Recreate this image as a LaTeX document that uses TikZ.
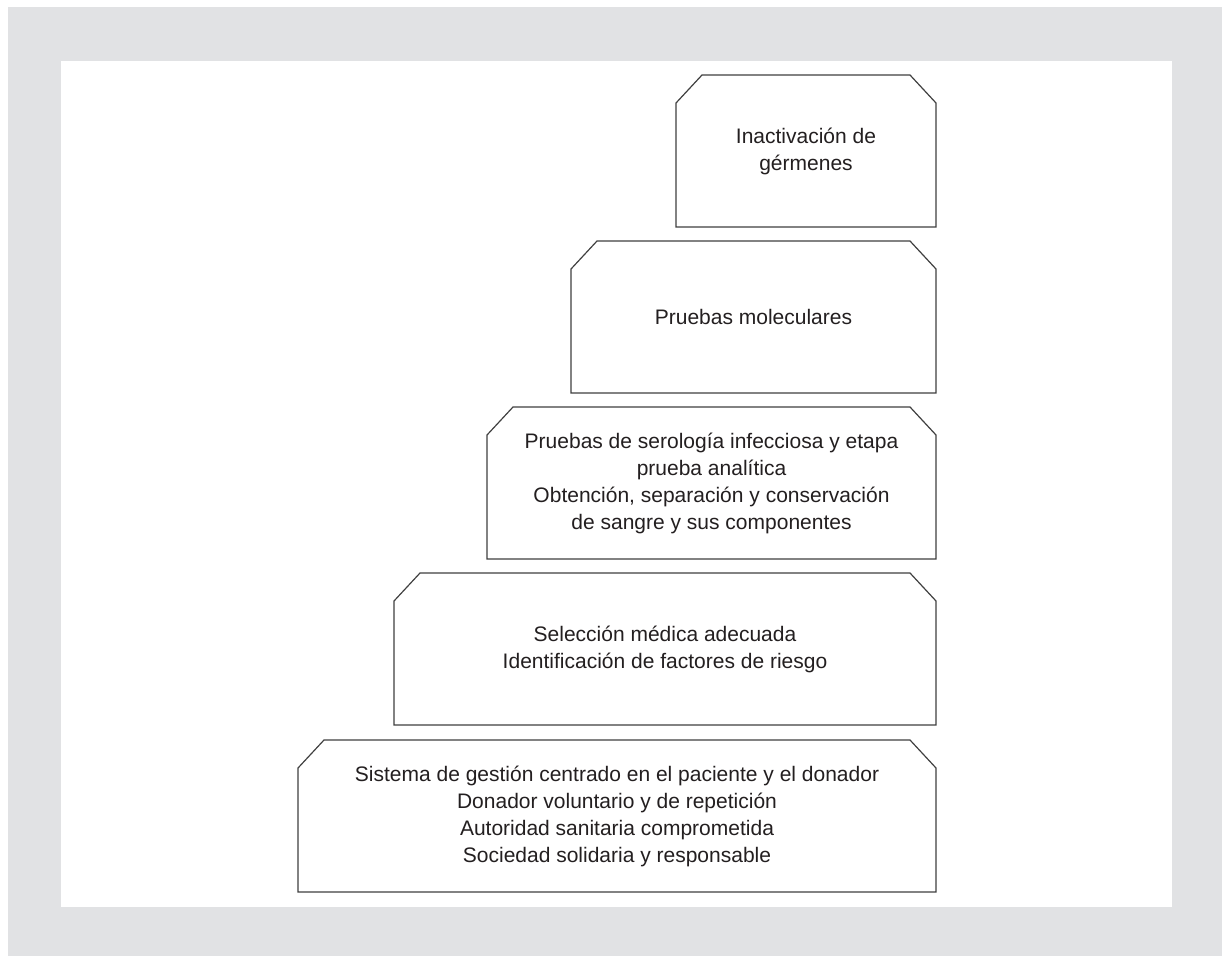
\documentclass[tikz,border=0pt]{standalone}
\usepackage{fontspec}
\setmainfont{Liberation Sans}
\usetikzlibrary{positioning}

\definecolor{framegray}{HTML}{E1E2E4}
\definecolor{inkgray}{HTML}{231F20}
\definecolor{edgegray}{HTML}{404040}

\begin{document}
\begin{tikzpicture}[x=1pt,y=-1pt,
	stage/.style={minimum height=152pt,inner sep=0pt,outer sep=0pt,anchor=north east,
		align=center,text=inkgray,font=\fontsize{21}{27}\selectfont},
	stageline/.style={draw=edgegray,line width=1.2pt,line join=miter}]
\useasboundingbox (0,0) rectangle (1222,956);
\fill[white] (0,0) rectangle (1222,956);
\fill[framegray] (8,7) rectangle (1222,956);
\fill[white] (61,61) rectangle (1172,907);

\node[stage,minimum width=260pt] (germenes) at (936,75) {Inactivación de\\gérmenes};
\node[stage,minimum width=365pt] (molec) at (936,241) {Pruebas moleculares};
\node[stage,minimum width=449pt] (serol) at (936,407)
	{Pruebas de serología infecciosa y etapa\\prueba analítica\\Obtención, separación y conservación\\de sangre y sus componentes};
\node[stage,minimum width=542pt] (seleccion) at (936,573)
	{Selección médica adecuada\\Identificación de factores de riesgo};
\node[stage,minimum width=638pt] (base) at (936,740)
	{Sistema de gestión centrado en el paciente y el donador\\Donador voluntario y de repetición\\Autoridad sanitaria comprometida\\Sociedad solidaria y responsable};

% chamfered outlines
\foreach \s in {germenes,molec,serol,seleccion,base}
	\draw[stageline] (\s.south west) -- ([yshift=-28pt]\s.north west) -- ([xshift=26pt]\s.north west)
		-- ([xshift=-26pt]\s.north east) -- ([yshift=-28pt]\s.north east) -- (\s.south east) -- cycle;

\end{tikzpicture}
\end{document}
